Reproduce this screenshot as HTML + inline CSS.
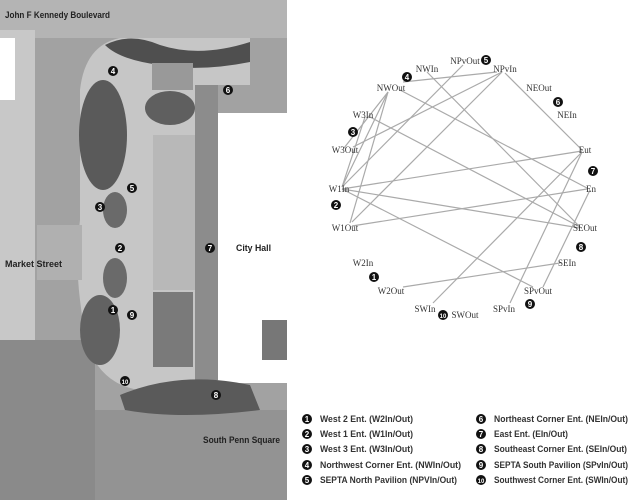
<!DOCTYPE html>
<html><head><meta charset="utf-8"><style>
html,body{margin:0;padding:0;background:#fff;width:640px;height:502px;overflow:hidden;font-family:"Liberation Sans",sans-serif}
</style></head><body>
<svg width="640" height="502" xmlns="http://www.w3.org/2000/svg" style="position:absolute;left:0;top:0">
<defs>
<g id="b"><circle r="5" fill="#111"/></g>
</defs>
<!-- MAP -->
<rect x="0" y="0" width="287" height="500" fill="#a2a2a2"/>
<rect x="0" y="0" width="287" height="38" fill="#b4b4b4"/>
<rect x="0" y="30" width="35" height="310" fill="#c8c8c8"/>
<rect x="0" y="38" width="15" height="62" fill="#fff"/>
<rect x="0" y="340" width="95" height="160" fill="#8a8a8a"/>
<rect x="95" y="410" width="192" height="90" fill="#939393"/>
<path d="M80,90 Q85,45 120,38 L250,38 L250,85 L218,85 L218,385 L200,390 L140,390 Q100,385 85,340 L80,300 Q75,260 80,220 Z" fill="#c6c6c6"/>
<path d="M105,45 Q130,32 160,45 Q200,58 250,42 L250,62 Q200,72 160,65 Q120,60 105,45 Z" fill="#4f4f4f"/>
<rect x="152" y="63" width="41" height="27" fill="#999"/>
<ellipse cx="103" cy="135" rx="24" ry="55" fill="#5a5a5a"/>
<ellipse cx="170" cy="108" rx="25" ry="17" fill="#5f5f5f"/>
<rect x="153" y="135" width="47" height="155" fill="#b8b8b8"/>
<rect x="195" y="85" width="23" height="295" fill="#8c8c8c"/>
<rect x="218" y="113" width="69" height="270" fill="#fff"/>
<rect x="262" y="320" width="25" height="40" fill="#777"/>
<ellipse cx="115" cy="210" rx="12" ry="18" fill="#6a6a6a"/>
<ellipse cx="115" cy="278" rx="12" ry="20" fill="#6a6a6a"/>
<ellipse cx="100" cy="330" rx="20" ry="35" fill="#626262"/>
<rect x="153" y="292" width="40" height="75" fill="#7a7a7a"/>
<path d="M120,395 Q180,370 250,385 L260,410 Q180,420 125,410 Z" fill="#5a5a5a"/>
<rect x="37" y="225" width="45" height="55" fill="#b0b0b0"/>
<g font-size="8" font-weight="bold" fill="#fff" text-anchor="middle" font-family="Liberation Sans,sans-serif">
<g transform="translate(113,71)"><use href="#b"/><text y="3">4</text></g>
<g transform="translate(228,90)"><use href="#b"/><text y="3">6</text></g>
<g transform="translate(132,188)"><use href="#b"/><text y="3">5</text></g>
<g transform="translate(100,207)"><use href="#b"/><text y="3">3</text></g>
<g transform="translate(120,248)"><use href="#b"/><text y="3">2</text></g>
<g transform="translate(210,248)"><use href="#b"/><text y="3">7</text></g>
<g transform="translate(113,310)"><use href="#b"/><text y="3">1</text></g>
<g transform="translate(132,315)"><use href="#b"/><text y="3">9</text></g>
<g transform="translate(125,381)"><use href="#b"/><text y="3" font-size="6">10</text></g>
<g transform="translate(216,395)"><use href="#b"/><text y="3">8</text></g>
</g>
<g font-size="9.5" font-weight="bold" fill="#222">
<text x="5" y="18" textLength="105" lengthAdjust="spacingAndGlyphs">John F Kennedy Boulevard</text>
<text x="5" y="267" textLength="57" lengthAdjust="spacingAndGlyphs">Market Street</text>
<text x="236" y="251" textLength="35" lengthAdjust="spacingAndGlyphs">City Hall</text>
<text x="203" y="443" textLength="77" lengthAdjust="spacingAndGlyphs">South Penn Square</text>
</g>
<!-- NETWORK -->
<g stroke="#aaa" stroke-width="1.2">
<line x1="403" y1="82" x2="497" y2="72"/>
<line x1="388" y1="92" x2="342" y2="187"/>
<line x1="388" y1="92" x2="344" y2="148"/>
<line x1="388" y1="92" x2="350" y2="223"/>
<line x1="400" y1="90" x2="587" y2="188"/>
<line x1="427" y1="72" x2="580" y2="227"/>
<line x1="463" y1="65" x2="342" y2="187"/>
<line x1="502" y1="72" x2="353" y2="147"/>
<line x1="502" y1="72" x2="352" y2="222"/>
<line x1="505" y1="73" x2="582" y2="150"/>
<line x1="370" y1="117" x2="580" y2="227"/>
<line x1="365" y1="117" x2="342" y2="187"/>
<line x1="342" y1="189" x2="582" y2="151"/>
<line x1="342" y1="189" x2="580" y2="228"/>
<line x1="342" y1="189" x2="533" y2="287"/>
<line x1="352" y1="226" x2="587" y2="189"/>
<line x1="582" y1="152" x2="433" y2="303"/>
<line x1="582" y1="152" x2="510" y2="303"/>
<line x1="590" y1="190" x2="543" y2="287"/>
<line x1="403" y1="287" x2="560" y2="263"/>
</g>
<g font-family="Liberation Serif,serif" font-size="9" fill="#333" text-anchor="middle">
<text x="427" y="72">NWIn</text>
<text x="465" y="64">NPvOut</text>
<text x="505" y="72">NPvIn</text>
<text x="539" y="91">NEOut</text>
<text x="567" y="118">NEIn</text>
<text x="585" y="153">Eut</text>
<text x="591" y="192">En</text>
<text x="585" y="231">SEOut</text>
<text x="567" y="266">SEIn</text>
<text x="538" y="294">SPvOut</text>
<text x="504" y="312">SPvIn</text>
<text x="465" y="318">SWOut</text>
<text x="425" y="312">SWIn</text>
<text x="391" y="294">W2Out</text>
<text x="363" y="266">W2In</text>
<text x="345" y="231">W1Out</text>
<text x="339" y="192">W1In</text>
<text x="345" y="153">W3Out</text>
<text x="363" y="118">W3In</text>
<text x="391" y="91">NWOut</text>
</g>
<g font-size="8" font-weight="bold" fill="#fff" text-anchor="middle">
<g transform="translate(486,60)"><use href="#b"/><text y="3">5</text></g>
<g transform="translate(407,77)"><use href="#b"/><text y="3">4</text></g>
<g transform="translate(558,102)"><use href="#b"/><text y="3">6</text></g>
<g transform="translate(353,132)"><use href="#b"/><text y="3">3</text></g>
<g transform="translate(593,171)"><use href="#b"/><text y="3">7</text></g>
<g transform="translate(336,205)"><use href="#b"/><text y="3">2</text></g>
<g transform="translate(581,247)"><use href="#b"/><text y="3">8</text></g>
<g transform="translate(374,277)"><use href="#b"/><text y="3">1</text></g>
<g transform="translate(530,304)"><use href="#b"/><text y="3">9</text></g>
<g transform="translate(443,315)"><use href="#b"/><text y="3" font-size="6">10</text></g>
</g>
<!-- LEGEND -->
<g font-size="8" font-weight="bold" fill="#fff" text-anchor="middle">
<g transform="translate(307,419)"><use href="#b"/><text y="3">1</text></g>
<g transform="translate(307,434)"><use href="#b"/><text y="3">2</text></g>
<g transform="translate(307,449)"><use href="#b"/><text y="3">3</text></g>
<g transform="translate(307,465)"><use href="#b"/><text y="3">4</text></g>
<g transform="translate(307,480)"><use href="#b"/><text y="3">5</text></g>
<g transform="translate(481,419)"><use href="#b"/><text y="3">6</text></g>
<g transform="translate(481,434)"><use href="#b"/><text y="3">7</text></g>
<g transform="translate(481,449)"><use href="#b"/><text y="3">8</text></g>
<g transform="translate(481,465)"><use href="#b"/><text y="3">9</text></g>
<g transform="translate(481,480)"><use href="#b"/><text y="3" font-size="6">10</text></g>
</g>
<g font-size="9" font-weight="bold" fill="#333" lengthAdjust="spacingAndGlyphs">
<text x="320" y="422" textLength="93" lengthAdjust="spacingAndGlyphs">West 2 Ent. (W2In/Out)</text>
<text x="320" y="437" textLength="93" lengthAdjust="spacingAndGlyphs">West 1 Ent. (W1In/Out)</text>
<text x="320" y="452" textLength="93" lengthAdjust="spacingAndGlyphs">West 3 Ent. (W3In/Out)</text>
<text x="320" y="468" textLength="141" lengthAdjust="spacingAndGlyphs">Northwest Corner Ent. (NWIn/Out)</text>
<text x="320" y="483" textLength="137" lengthAdjust="spacingAndGlyphs">SEPTA North Pavilion (NPVIn/Out)</text>
<text x="494" y="422" textLength="134" lengthAdjust="spacingAndGlyphs">Northeast Corner Ent. (NEIn/Out)</text>
<text x="494" y="437" textLength="74" lengthAdjust="spacingAndGlyphs">East Ent. (EIn/Out)</text>
<text x="494" y="452" textLength="133" lengthAdjust="spacingAndGlyphs">Southeast Corner Ent. (SEIn/Out)</text>
<text x="494" y="468" textLength="134" lengthAdjust="spacingAndGlyphs">SEPTA South Pavilion (SPvIn/Out)</text>
<text x="494" y="483" textLength="134" lengthAdjust="spacingAndGlyphs">Southwest Corner Ent. (SWIn/Out)</text>
</g>
</svg>
</body></html>
